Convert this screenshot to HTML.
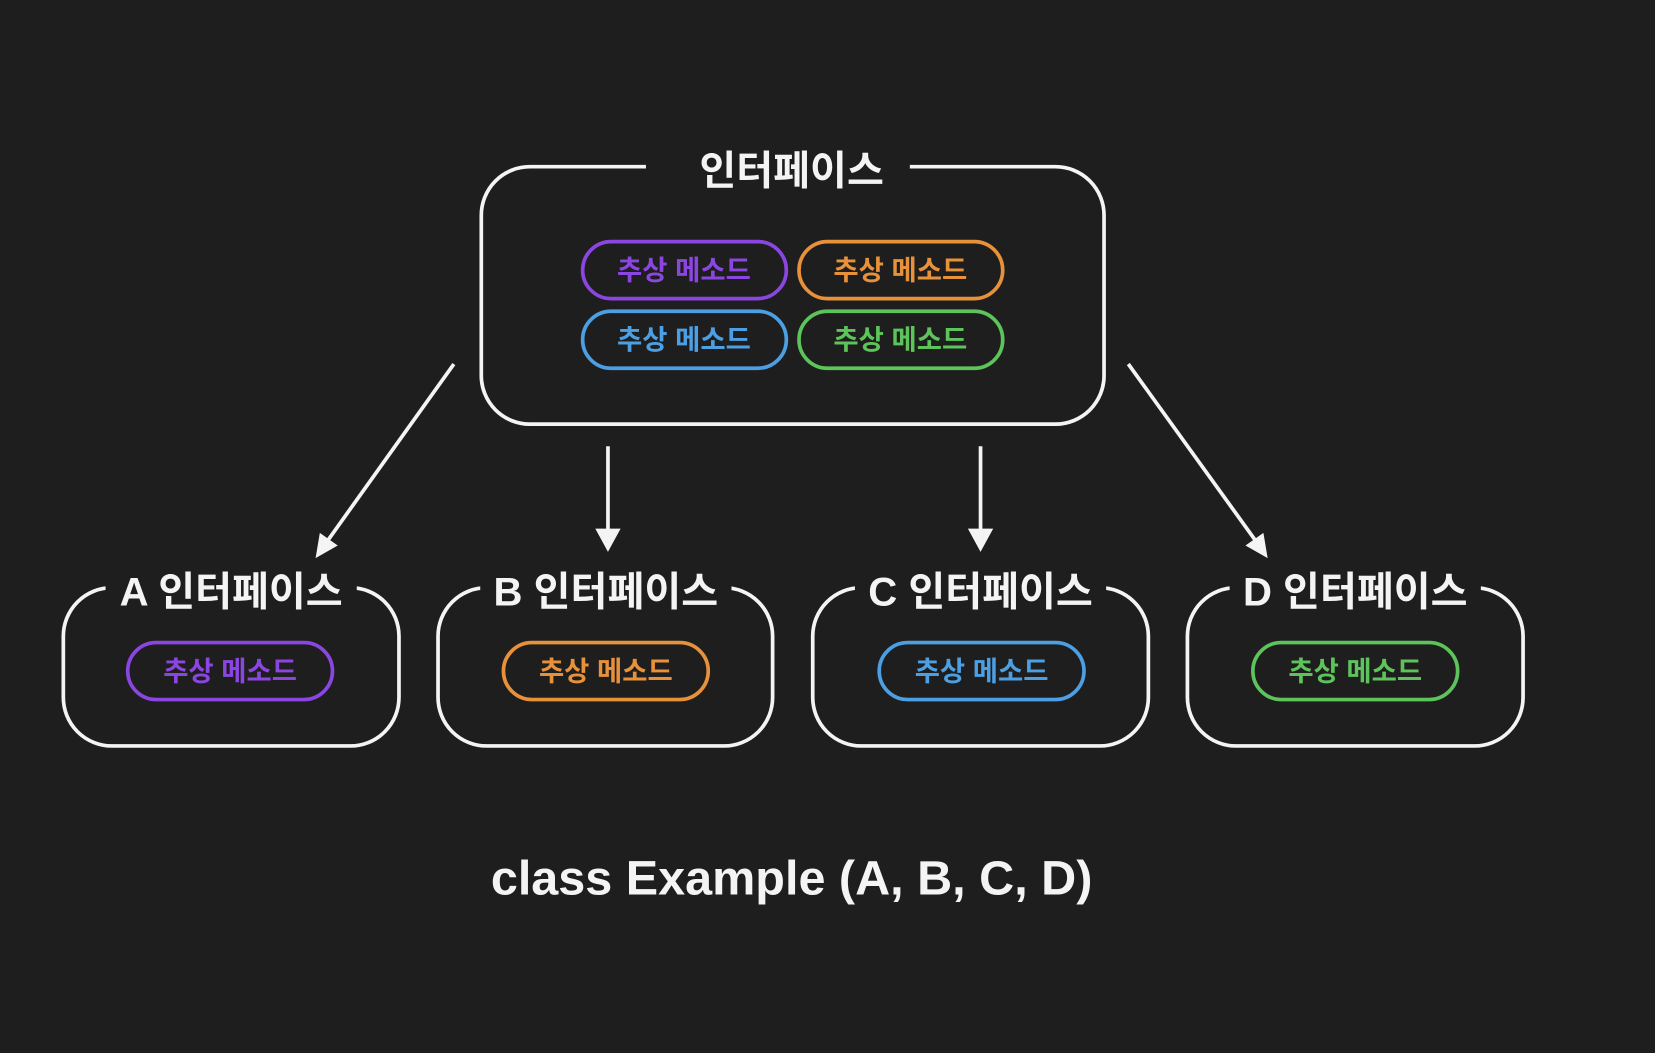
<!DOCTYPE html>
<html><head><meta charset="utf-8"><style>
html,body{margin:0;padding:0;background:#1e1e1e;}
svg{display:block}
text{font-family:"Liberation Sans","Noto Sans CJK KR","NanumGothic",sans-serif;font-weight:bold;}
</style></head><body>
<svg width="1655" height="1053" viewBox="0 0 1568 998" preserveAspectRatio="none" xmlns="http://www.w3.org/2000/svg">
<rect width="1568" height="998" fill="#1e1e1e"/>
<defs>
<marker id="ah" markerWidth="8" markerHeight="8" refX="6" refY="4" orient="auto" markerUnits="userSpaceOnUse" viewBox="0 0 8 8">
</marker>
</defs>
<g fill="none" stroke="#f4f4f4" stroke-width="3.5">
<rect x="456" y="158" width="590" height="244" rx="46"/>
<rect x="60" y="557" width="318" height="150" rx="46"/>
<rect x="415" y="557" width="317" height="150" rx="46"/>
<rect x="770" y="557" width="318" height="150" rx="46"/>
<rect x="1125" y="557" width="318" height="150" rx="46"/>
</g>
<g fill="#1e1e1e">
<rect x="612" y="140" width="250" height="40"/>
<rect x="100" y="540" width="238" height="36"/>
<rect x="455" y="540" width="238" height="36"/>
<rect x="810" y="540" width="238" height="36"/>
<rect x="1165" y="540" width="238" height="36"/>
</g>
<g fill="#f4f4f4" font-size="38" text-anchor="middle">
<text x="750" y="175">인터페이스</text>
<text x="219" y="574">A 인터페이스</text>
<text x="574" y="574">B 인터페이스</text>
<text x="929" y="574">C 인터페이스</text>
<text x="1284" y="574">D 인터페이스</text>
<text x="750" y="848" font-size="46">class Example (A, B, C, D)</text>
</g>
<g fill="none" stroke-width="3.5">
<rect x="552" y="229" width="193" height="54" rx="27" stroke="#8b46e2"/>
<rect x="757" y="229" width="193" height="54" rx="27" stroke="#e8913b"/>
<rect x="552" y="295" width="193" height="54" rx="27" stroke="#4c9fe2"/>
<rect x="757" y="295" width="193" height="54" rx="27" stroke="#5dc35b"/>
<rect x="121" y="609" width="194" height="54" rx="27" stroke="#8b46e2"/>
<rect x="477" y="609" width="194" height="54" rx="27" stroke="#e8913b"/>
<rect x="833" y="609" width="194" height="54" rx="27" stroke="#4c9fe2"/>
<rect x="1187" y="609" width="194" height="54" rx="27" stroke="#5dc35b"/>
</g>
<g font-size="26" text-anchor="middle">
<text x="648" y="265" fill="#8b46e2">추상 메소드</text>
<text x="853" y="265" fill="#e8913b">추상 메소드</text>
<text x="648" y="331" fill="#4c9fe2">추상 메소드</text>
<text x="853" y="331" fill="#5dc35b">추상 메소드</text>
<text x="218" y="645" fill="#8b46e2">추상 메소드</text>
<text x="574" y="645" fill="#e8913b">추상 메소드</text>
<text x="930" y="645" fill="#4c9fe2">추상 메소드</text>
<text x="1284" y="645" fill="#5dc35b">추상 메소드</text>
</g>
<g stroke="#f4f4f4" stroke-width="3.5" fill="none">
<line x1="430" y1="345" x2="310" y2="513"/>
<line x1="576" y1="423" x2="576" y2="505"/>
<line x1="929" y1="423" x2="929" y2="505"/>
<line x1="1069" y1="345" x2="1190" y2="513"/>
</g>
<g fill="#f4f4f4">
<polygon points="299,529 303,505 320,517"/>
<polygon points="576,523 564,501 588,501"/>
<polygon points="929,523 917,501 941,501"/>
<polygon points="1201,529 1180,517 1197,505"/>
</g>
</svg>
</body></html>
